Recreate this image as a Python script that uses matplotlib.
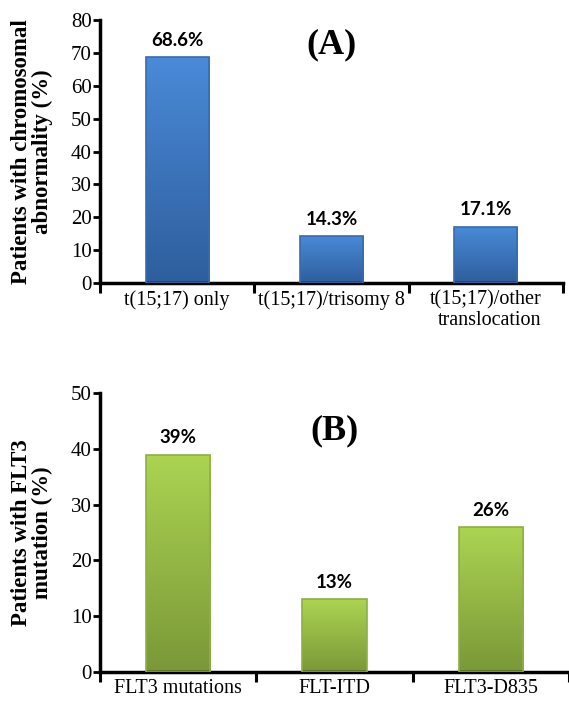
import numpy as np
import matplotlib
matplotlib.use("Agg")
import matplotlib.pyplot as plt
from matplotlib.colors import LinearSegmentedColormap
from matplotlib.transforms import ScaledTranslation

# panel A data
cats_a = ["t(15;17) only", "t(15;17)/trisomy 8", "t(15;17)/other\ntranslocation"]
vals_a = [68.6, 14.3, 17.1]
labels_a = ["68.6%", "14.3%", "17.1%"]

# panel B data
cats_b = ["FLT3 mutations", "FLT-ITD", "FLT3-D835"]
vals_b = [39, 13, 26]
labels_b = ["39%", "13%", "26%"]

plt.rcParams['font.family'] = ['Liberation Serif', 'DejaVu Serif']

fig = plt.figure(figsize=(5.69, 7.04), dpi=100)
ax_a = fig.add_axes([0.1757, 0.598, 0.8137, 0.3736])
ax_b = fig.add_axes([0.1757, 0.0455, 0.8243, 0.396])


def gradient_bars(ax, vals, top_col, bot_col, edge_col):
    bars = ax.bar(range(len(vals)), vals, width=0.41, color='none',
                  edgecolor='none', zorder=2)
    cmap = LinearSegmentedColormap.from_list('g', [bot_col, top_col])
    grad = np.linspace(0, 1, 256).reshape(-1, 1)
    for b in bars:
        x0, y0 = b.get_x(), b.get_y()
        w, h = b.get_width(), b.get_height()
        im = ax.imshow(grad, extent=[x0, x0 + w, y0, y0 + h], origin='lower',
                       aspect='auto', cmap=cmap, zorder=2)
        im.set_clip_path(b)
        # soft bevel on the sides and top
        ax.bar(b.get_x() + w / 2, h, width=w, color='none',
               edgecolor=edge_col, linewidth=1.2, zorder=3)
    return bars


def style_axis(ax, cats, vals, labels, ymax, ystep, ylabel, panel, py):
    ax.set_xlim(-0.5, 2.5)
    ax.set_ylim(0, ymax)
    ax.set_yticks(np.arange(0, ymax + 1, ystep))
    ax.set_xticks([-0.5, 0.5, 1.5, 2.5])
    ax.set_xticklabels([])
    ax.set_xticks(range(len(cats)), minor=True)
    ax.set_xticklabels(cats, minor=True, fontsize=14.5, linespacing=1.12,
                       multialignment='right')
    shift = ScaledTranslation(5 / 72, 0, fig.dpi_scale_trans)
    for lab in ax.get_xticklabels(minor=True):
        lab.set_transform(lab.get_transform() + shift)
    ax.tick_params(axis='x', which='minor', length=0, pad=5)
    ax.tick_params(axis='x', which='major', length=7, width=2.2, direction='out')
    ax.tick_params(axis='y', length=5, width=2, direction='out', labelsize=15, pad=1)
    for s in ['top', 'right']:
        ax.spines[s].set_visible(False)
    for s in ['left', 'bottom']:
        ax.spines[s].set_linewidth(2.5)
    ax.set_ylabel(ylabel, fontsize=16.5, fontweight='bold', linespacing=1.0,
                  labelpad=13)
    for i, (v, t) in enumerate(zip(vals, labels)):
        ax.annotate(t, (i, v), xytext=(0, 6), textcoords='offset points',
                    ha='center', va='bottom', fontsize=13.5, fontweight='bold',
                    family='Lato', zorder=4)
    ax.text(0.5, py, panel, transform=ax.transAxes, ha='center', va='center',
            fontsize=26, fontweight='bold', zorder=4)
    ax.patch.set_alpha(0)


gradient_bars(ax_a, vals_a, '#4a8ad8', '#2e5e9c', '#3a6cab')
style_axis(ax_a, cats_a, vals_a, labels_a, 80, 10,
           "Patients with chromosomal\nabnormality (%)", "(A)", 0.905)

gradient_bars(ax_b, vals_b, '#acd452', '#7a9838', '#8fb044')
style_axis(ax_b, cats_b, vals_b, labels_b, 50, 10,
           "Patients with FLT3\nmutation (%)", "(B)", 0.865)

fig.savefig("out.png", dpi=100)
